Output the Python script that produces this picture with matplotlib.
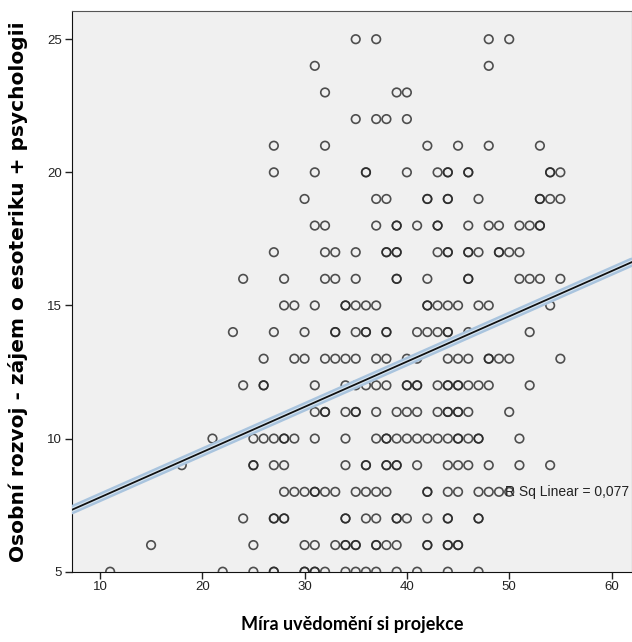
import numpy as np
import matplotlib.pyplot as plt

# x values (Míra uvědomění si projekce) for each y score, repeats = overlapping points
row_25 = [35, 37, 48, 50]
row_24 = [31, 48]
row_23 = [32, 39, 40]
row_22 = [35, 37, 38, 40]
row_21 = [27, 32, 42, 45, 48, 53]
row_20 = [27, 31, 36, 36, 40, 43, 44, 44, 46, 46, 54, 54, 55]
row_19 = [30, 37, 38, 42, 42, 44, 44, 47, 53, 53, 54, 55]
row_18 = [31, 32, 37, 39, 39, 41, 43, 43, 46, 48, 49, 51, 52, 53, 53]
row_17 = [27, 32, 33, 35, 38, 38, 39, 39, 43, 44, 44, 46, 46, 47, 49, 49, 50, 51]
row_16 = [24, 28, 32, 33, 35, 39, 39, 42, 46, 46, 51, 52, 53, 55]
row_15 = [28, 29, 31, 34, 34, 35, 36, 37, 42, 42, 43, 44, 45, 47, 48, 54]
row_14 = [23, 27, 30, 33, 33, 35, 36, 36, 38, 38, 41, 42, 43, 44, 44, 46, 52]
row_13 = [26, 29, 30, 32, 33, 34, 35, 37, 38, 40, 41, 44, 45, 46, 48, 48, 49, 50, 55]
row_12 = [24, 26, 26, 31, 34, 35, 36, 37, 38, 40, 40, 41, 41, 43, 44, 44, 45, 45,
          46, 47, 48, 52]
row_11 = [31, 32, 32, 34, 35, 35, 37, 39, 40, 41, 43, 44, 44, 45, 45, 46, 50]
row_10 = [21, 25, 26, 27, 28, 28, 29, 31, 34, 37, 38, 38, 39, 40, 41, 42, 43, 44,
          45, 45, 46, 47, 47, 51]
row_9 = [18, 25, 25, 27, 28, 34, 36, 36, 38, 38, 39, 39, 41, 44, 45, 46, 48, 51, 54]
row_8 = [28, 29, 30, 31, 31, 32, 33, 35, 36, 37, 38, 42, 42, 44, 45, 47, 48, 49, 50]
row_7 = [24, 27, 27, 28, 28, 34, 34, 36, 37, 39, 39, 40, 42, 44, 44, 47, 47]
row_6 = [15, 25, 30, 31, 33, 34, 34, 35, 35, 37, 37, 38, 39, 42, 42, 44, 44, 45, 45]
row_5 = [11, 22, 25, 27, 27, 30, 30, 31, 31, 32, 34, 35, 36, 37, 39, 41, 44, 47]

rows = {25: row_25, 24: row_24, 23: row_23, 22: row_22, 21: row_21, 20: row_20,
        19: row_19, 18: row_18, 17: row_17, 16: row_16, 15: row_15, 14: row_14,
        13: row_13, 12: row_12, 11: row_11, 10: row_10, 9: row_9, 8: row_8,
        7: row_7, 6: row_6, 5: row_5}

# primka linearni regrese
fit_intercept = 6.09
fit_slope = 0.170
r2_text = "R Sq Linear = 0,077"
x_ticks = [10, 20, 30, 40, 50, 60]
y_ticks = [5, 10, 15, 20, 25]

x = np.concatenate([np.array(v, dtype=float) for v in rows.values()])
y = np.concatenate([np.full(len(v), k, dtype=float) for k, v in rows.items()])

fig = plt.figure(figsize=(6.32, 6.42), dpi=100)
ax = fig.add_axes([0.1134, 0.1095, 0.8866, 0.8738])
ax.set_facecolor('#f0f0f0')

ax.scatter(x, y, s=38, facecolors='none', edgecolors='#262626', linewidths=1.2,
           alpha=0.8, zorder=3)

xl = np.array([7.24, 62.0])
ax.plot(xl, fit_intercept + fit_slope * xl, color='#a9c4de', lw=6.5,
        solid_capstyle='round', zorder=4)
ax.plot(xl, fit_intercept + fit_slope * xl, color='#d6e4f0', lw=3.0, zorder=4)
ax.plot(xl, fit_intercept + fit_slope * xl, color='#111111', lw=1.3, zorder=5)

ax.text(49.6, 8, r2_text, fontsize=10, family='Liberation Sans', va='center',
        ha='left', color='#222222', zorder=6)

ax.set_xlim(7.24, 62.0)
ax.set_ylim(5, 26.07)
ax.set_xticks(x_ticks)
ax.set_yticks(y_ticks)
ax.tick_params(direction='out', length=5, width=1, labelsize=9.5, colors='#222222',
               pad=2)
for lab in ax.get_xticklabels() + ax.get_yticklabels():
    lab.set_family('Liberation Sans')
for s in ['left', 'bottom']:
    ax.spines[s].set_color('#111111')
for s in ['top', 'right']:
    ax.spines[s].set_color('#555555')

ax.set_xlabel("Míra uvědomění si projekce", fontsize=13, fontweight='bold',
              family=['Lato', 'DejaVu Sans'], labelpad=16)
ax.set_ylabel("Osobní rozvoj - zájem o esoteriku + psychologii", fontsize=14.5,
              fontweight='bold', family='DejaVu Sans', labelpad=14)

fig.savefig("out.png", dpi=100)
